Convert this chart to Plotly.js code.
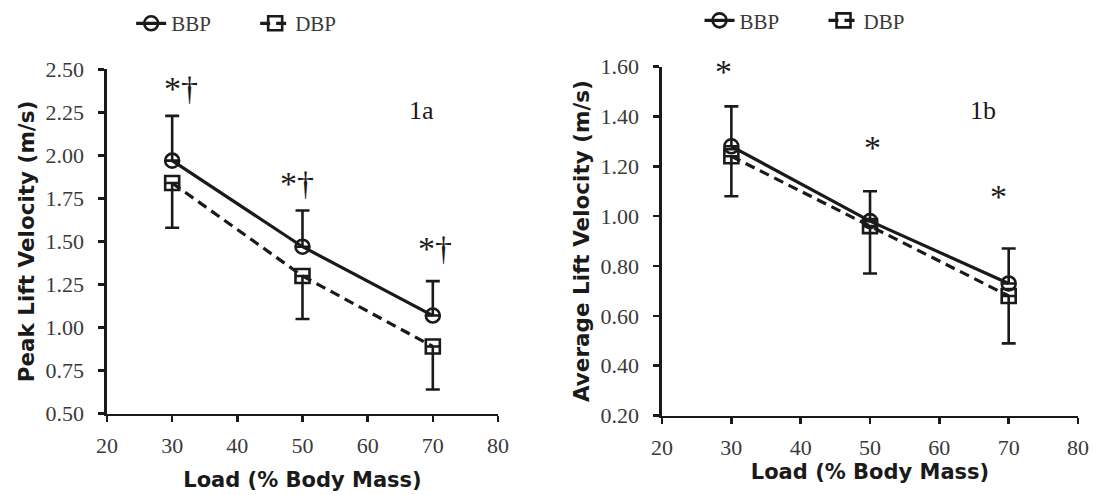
<!DOCTYPE html>
<html>
<head>
<meta charset="utf-8">
<script src="https://cdn.plot.ly/plotly-3.0.1.min.js"></script>
<style>html,body{margin:0;padding:0;background:#fff;}#chart{width:1093px;height:495px;}</style>
</head>
<body>
<div id="chart"></div>
<script>
// Loads (% body mass)
const loads = [30, 50, 70];
// Panel 1a: Peak lift velocity (m/s)
const peakBBP = [1.97, 1.47, 1.07];
const peakBBPsd = [0.26, 0.21, 0.20];
const peakDBP = [1.84, 1.30, 0.89];
const peakDBPsd = [0.26, 0.25, 0.25];
// Panel 1b: Average lift velocity (m/s)
const avgBBP = [1.28, 0.98, 0.73];
const avgBBPsd = [0.16, 0.12, 0.14];
const avgDBP = [1.24, 0.96, 0.68];
const avgDBPsd = [0.16, 0.19, 0.19];
const zeros = [0, 0, 0];

const ink = '#1a1a1a';
const serif = 'Liberation Serif, serif';
const sans = 'DejaVu Sans, Verdana, sans-serif';

function series(name, x, y, sd, up, xa, ya, leg) {
  return {
    type: 'scatter', mode: 'lines+markers', name: name,
    x: x, y: y, xaxis: xa, yaxis: ya, legend: leg,
    line: {color: ink, width: 3.2, dash: up ? 'solid' : '10px,6px'},
    marker: {symbol: up ? 'circle-open' : 'square-open', size: 14, color: ink, line: {color: ink, width: 2.6}},
    error_y: {type: 'data', symmetric: false, array: up ? sd : zeros, arrayminus: up ? zeros : sd,
              color: ink, thickness: 2.6, width: 7}
  };
}

const data = [
  series('BBP', loads, peakBBP, peakBBPsd, true, 'x', 'y', 'legend'),
  series('DBP', loads, peakDBP, peakDBPsd, false, 'x', 'y', 'legend'),
  series('BBP', loads, avgBBP, avgBBPsd, true, 'x2', 'y2', 'legend2'),
  series('DBP', loads, avgDBP, avgDBPsd, false, 'x2', 'y2', 'legend2')
];

function xax(domain, anchor, standoff) {
  return {domain: domain, anchor: anchor, range: [20, 80], dtick: 10, tick0: 20,
    showline: true, linecolor: ink, linewidth: 2.6, ticks: 'outside', ticklen: 6, tickwidth: 2.6, tickcolor: ink,
    showgrid: false, zeroline: false, ticklabelstandoff: 4,
    tickfont: {family: serif, size: 22, color: '#3a3a3a'},
    title: {text: 'Load (% Body Mass)', font: {family: sans, size: 21, color: ink, weight: 'bold'}, standoff: standoff}};
}
function yax(domain, anchor, range, dtick, title) {
  return {domain: domain, anchor: anchor, range: range, dtick: dtick, tick0: range[0], tickformat: '.2f',
    showline: true, linecolor: ink, linewidth: 2.6, ticks: 'outside', ticklen: 6, tickwidth: 2.6, tickcolor: ink,
    showgrid: false, zeroline: false, ticklabelstandoff: 10,
    tickfont: {family: serif, size: 22, color: '#3a3a3a'},
    title: {text: title, font: {family: sans, size: 21.5, color: ink, weight: 'bold'}, standoff: 5}};
}

function ann(text, x, y, xr, yr, size) {
  return {text: text, x: x, y: y, xref: xr, yref: yr, showarrow: false,
    font: {family: serif, size: size || 34, color: ink}};
}

const legendBase = {orientation: 'h', xanchor: 'left', yanchor: 'middle', entrywidth: 79, entrywidthmode: 'pixels',
  font: {family: serif, size: 21, color: '#3a3a3a'}, bgcolor: 'rgba(0,0,0,0)'};

const layout = {
  width: 1093, height: 495,
  margin: {l: 0, r: 0, t: 0, b: 0},
  paper_bgcolor: '#fff', plot_bgcolor: '#fff',
  xaxis: xax([0.0979, 0.4556], 'y', 16),
  yaxis: yax([0.1657, 0.8667], 'x', [0.5, 2.5], 0.25, 'Peak Lift Velocity (m/s)'),
  xaxis2: xax([0.6057, 0.9863], 'y2', 0),
  yaxis2: yax([0.1616, 0.8727], 'x2', [0.2, 1.6], 0.2, 'Average Lift Velocity (m/s)'),
  legend: Object.assign({x: 0.12, y: 0.96}, legendBase),
  legend2: Object.assign({x: 0.64, y: 0.966}, legendBase),
  showlegend: true,
  annotations: [
    ann('*†', 31.4, 2.39, 'x', 'y'),
    ann('*†', 49.2, 1.84, 'x', 'y'),
    ann('*†', 70.3, 1.46, 'x', 'y'),
    ann('1a', 68.3, 2.26, 'x', 'y', 26),
    ann('*', 28.8, 1.58, 'x2', 'y2'),
    ann('*', 50.3, 1.275, 'x2', 'y2'),
    ann('*', 68.5, 1.08, 'x2', 'y2'),
    ann('1b', 66.3, 1.425, 'x2', 'y2', 26)
  ]
};

Plotly.newPlot('chart', data, layout, {displayModeBar: false, staticPlot: true});
</script>
</body>
</html>
